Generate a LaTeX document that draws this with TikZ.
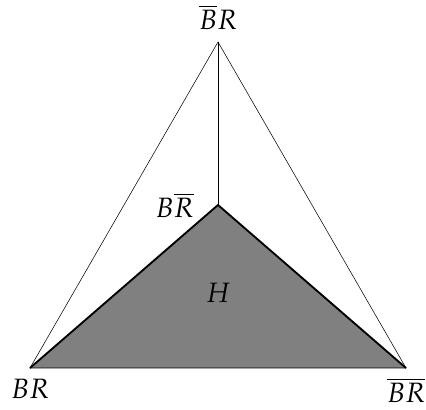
\documentclass[tikz,border=0pt]{standalone}
\usepackage{mathpazo}
\usepackage{tikz}
\usetikzlibrary{positioning}

\begin{document}
\begin{tikzpicture}[
    x=0.75pt, y=0.75pt,
    font=\fontsize{21}{24}\selectfont,
    edge/.style={thin, black},
    hedge/.style={line width=1.4pt, black, line join=miter},
    region/.style={fill=black!50},
    lbl/.style={inner sep=0pt}
]
    % Frame
    \useasboundingbox (0,0) rectangle (426,410);

    % Vertices
    \coordinate (top) at (218,368);
    \coordinate (bl) at (30,42);
    \coordinate (br) at (406,42);
    \coordinate (mid) at (218,205);

    % Region H
    \fill[region] (bl) -- (mid) -- (br) -- cycle;

    % Outer triangle and spoke
    \draw[edge] (bl) -- (top) -- (br) -- cycle;
    \draw[edge] (top) -- (mid);
    \draw[hedge] (bl) -- (mid) -- (br);

    % Labels
    \node[lbl, above=9pt of top] (ltop) {$\overline{B}R$};
    \node[lbl, left=18pt of mid] (lmid) {$B\overline{R}$};
    \node[lbl, below=8pt of bl] (lbl) {$BR$};
    \node[lbl, below=7pt of br] (lbr) {$\overline{BR}$};
    \node[lbl] (lh) at (218,117) {$H$};
\end{tikzpicture}
\end{document}
